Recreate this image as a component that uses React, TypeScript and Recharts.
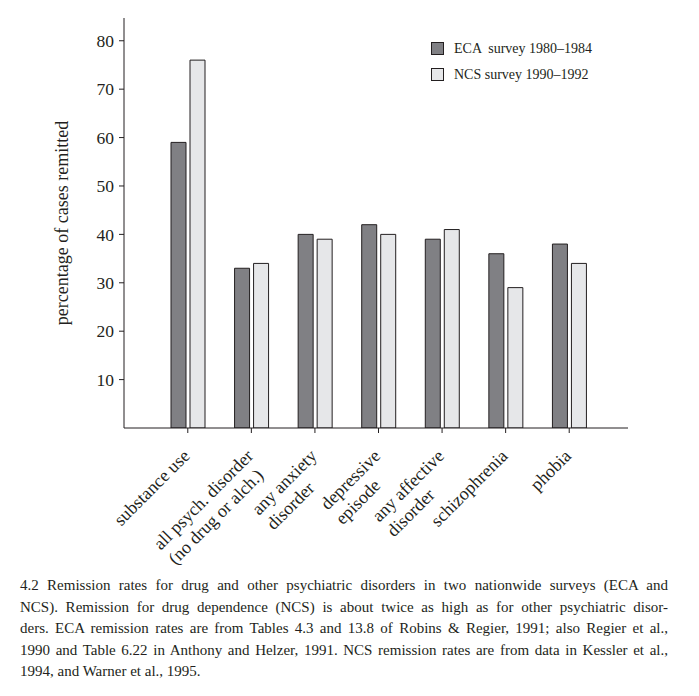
import React from 'react'
import { Bar, BarChart, Legend, XAxis, YAxis } from 'recharts'

const categories = [
  'substance use',
  'all psych. disorder\n(no drug or alch.)',
  'any anxiety\ndisorder',
  'depressive\nepisode',
  'any affective\ndisorder',
  'schizophrenia',
  'phobia',
]
const ecaValues = [59, 33, 40, 42, 39, 36, 38]
const ncsValues = [76, 34, 39, 40, 41, 29, 34]
const yTicks = [10, 20, 30, 40, 50, 60, 70, 80]
const seriesNames = ['ECA  survey 1980–1984', 'NCS survey 1990–1992']
const captionLines = [
  '4.2 Remission rates for drug and other psychiatric disorders in two nationwide surveys (ECA and',
  'NCS). Remission for drug dependence (NCS) is about twice as high as for other psychiatric disor-',
  'ders. ECA remission rates are from Tables 4.3 and 13.8 of Robins & Regier, 1991; also Regier et al.,',
  '1990 and Table 6.22 in Anthony and Helzer, 1991. NCS remission rates are from data in Kessler et al.,',
  '1994, and Warner et al., 1995.',
]

const data = categories.map((name, i) => ({ name, eca: ecaValues[i], ncs: ncsValues[i] }))

const FONT = '"Liberation Serif", "Times New Roman", serif'
const INK = '#231f20'
const DARK = '#808084'
const LIGHT = '#e6e7e9'
const TICK_FS = 18

let ctx: CanvasRenderingContext2D | null = null
const textWidth = (s: string, size: number) => {
  if (!ctx) ctx = document.createElement('canvas').getContext('2d')
  if (!ctx) return s.length * size * 0.45
  ctx.font = `${size}px "Liberation Serif"`
  return ctx.measureText(s).width
}

// rotated labels, lines left aligned, first line ends at the tick
const XTick = ({ x, y, payload }: any) => {
  const lines = String(payload.value).split('\n')
  const w = textWidth(lines[0], TICK_FS)
  return (
    <g transform={`translate(${x + 3},${y + 22}) rotate(-45)`}>
      {lines.map((l, i) => (
        <text key={i} x={-w} y={i * 21} textAnchor='start' fontSize={TICK_FS} fontFamily={FONT} fill={INK}>
          {l}
        </text>
      ))}
    </g>
  )
}

const LegendBox = () => (
  <div style={{ position: 'absolute', left: 0, top: 0, fontFamily: FONT, fontSize: 14, color: INK, whiteSpace: 'nowrap' }}>
    {seriesNames.map((n, i) => (
      <div key={n} style={{ display: 'flex', alignItems: 'center', height: 13, marginBottom: 13 }}>
        <span style={{ display: 'inline-block', width: 11, height: 11, border: `1px solid ${INK}`, background: i === 0 ? DARK : LIGHT, marginRight: 10 }} />
        <span style={{ whiteSpace: 'pre', lineHeight: '13px' }}>{n}</span>
      </div>
    ))}
  </div>
)

export default function App() {
  return (
    <div style={{ position: 'absolute', left: 0, top: 0, width: 699, height: 696, background: '#fff' }}>
      <BarChart width={699} height={610} data={data} margin={{ top: 18, right: 71, left: 0, bottom: 62 }}
        barSize={15} barGap={4}>
        <XAxis dataKey='name' interval={0} height={120} padding={{ left: 32, right: 27 }}
          tick={<XTick />} tickSize={5} stroke={INK} tickLine={{ stroke: INK }} />
        <XAxis xAxisId='top' orientation='top' height={0} tick={false} tickLine={false} stroke={INK} />
        <YAxis type='number' domain={[0, 84.7]} ticks={yTicks} width={124} tickSize={5} tickMargin={5}
          stroke={INK} tick={{ fill: INK, fontSize: 17.5, fontFamily: FONT }} allowDataOverflow
          label={{ value: 'percentage of cases remitted', angle: -90, position: 'insideLeft', offset: 62,
            style: { textAnchor: 'middle', fontSize: 18, fontFamily: FONT, fill: INK } }} />
        <YAxis yAxisId='right' orientation='right' width={0} tick={false} tickLine={false} stroke={INK} />
        <Legend content={<LegendBox />} wrapperStyle={{ left: 431, top: 42, width: 0, height: 0 }} />
        <Bar dataKey='eca' name={seriesNames[0]} fill={DARK} stroke={INK} strokeWidth={1} isAnimationActive={false} />
        <Bar dataKey='ncs' name={seriesNames[1]} fill={LIGHT} stroke={INK} strokeWidth={1} isAnimationActive={false} />
      </BarChart>
      <div style={{ position: 'absolute', left: 20, top: 575, width: 648, fontFamily: FONT, fontSize: 15, lineHeight: '21.5px', color: INK }}>
        {captionLines.map((l, i) => (
          <div key={i} style={{ whiteSpace: 'nowrap', textAlign: 'justify', textAlignLast: i < captionLines.length - 1 ? 'justify' : 'left' }}>{l}</div>
        ))}
      </div>
    </div>
  )
}
